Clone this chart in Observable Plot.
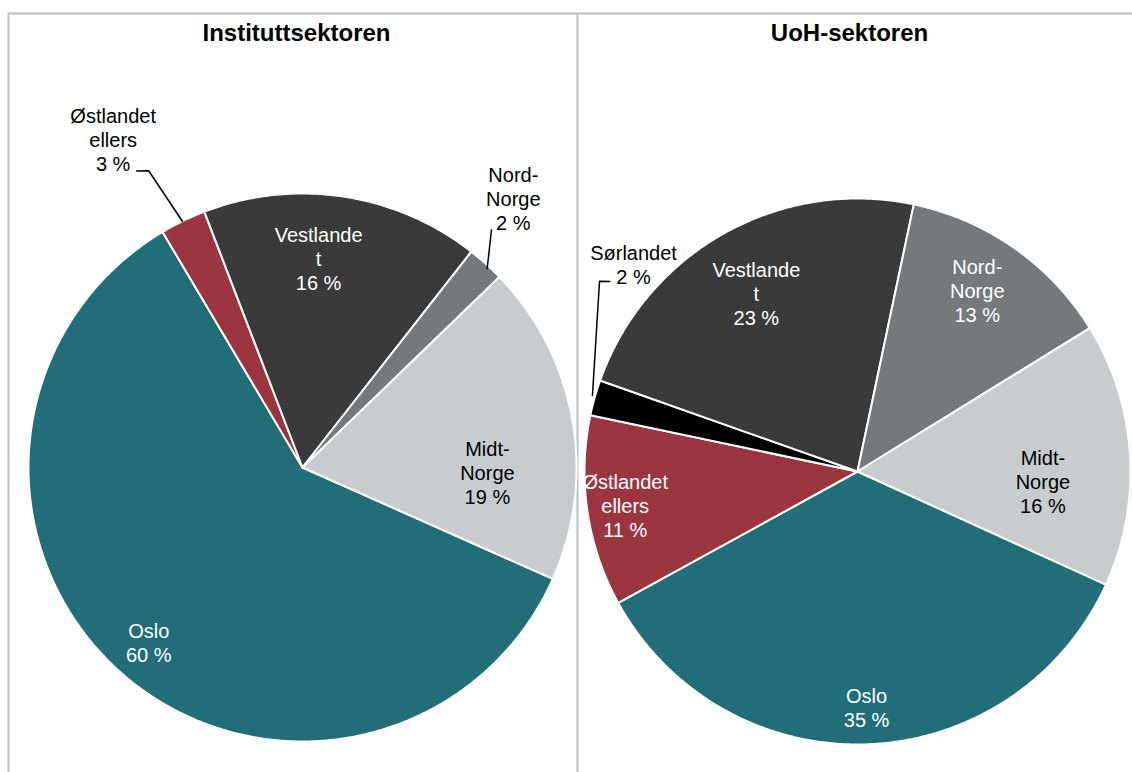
<!DOCTYPE html>
<html>
<head>
<meta charset="utf-8">
<script src="https://cdn.jsdelivr.net/npm/d3@7"></script>
<script src="https://cdn.jsdelivr.net/npm/@observablehq/plot@0.6"></script>
<style>
  html, body { margin: 0; padding: 0; background: #ffffff; }
  #chart svg { display: block; }
</style>
</head>
<body>
<div id="chart"></div>
<script>
// ---------- data ----------
const sectors = ["Instituttsektoren", "UoH-sektoren"];
const regions = ["Oslo", "Østlandet ellers", "Sørlandet", "Vestlandet", "Nord-Norge", "Midt-Norge"];
const regionLabels = ["Oslo", "Østlandet\nellers", "Sørlandet", "Vestlande\nt", "Nord-\nNorge", "Midt-\nNorge"];
const instituttValues = [59.8, 2.7, 0, 16.4, 2.2, 18.9];
const uohValues = [35.2, 11.3, 2.1, 22.9, 12.9, 15.6];
const regionColors = ["#216e79", "#9b3641", "#000000", "#3a3a3a", "#76797c", "#c9cccf"];
const insideTextColors = ["#ffffff", "#ffffff", "#ffffff", "#ffffff", "#ffffff", "#000000"];

// ---------- layout (positions, not data) ----------
const W = 1132, H = 772;
const layout = [
  { cx: 302, cy: 467, r: 274, start: 114, titleX: 296,
    labels: { "Oslo": [221.3, 0.85], "Østlandet ellers": [330, 1.382, true], "Vestlandet": [4.4, 0.766],
              "Nord-Norge": [38.1, 1.247, true], "Midt-Norge": [91.5, 0.675] },
    leaders: { "Østlandet ellers": [[330.8, 1.24], [332.6, 1.22], [334, 1.0]],
               "Nord-Norge": [[38.5, 1.108], [42.9, 0.99]] } },
  { cx: 857, cy: 471, r: 273, start: 114.5, titleX: 849,
    labels: { "Oslo": [177.8, 0.865], "Østlandet ellers": [261.7, 0.86], "Sørlandet": [312.8, 1.118, true],
              "Vestlandet": [330.4, 0.75], "Nord-Norge": [33.5, 0.795], "Midt-Norge": [93, 0.68] },
    leaders: { "Sørlandet": [[307.5, 1.144], [306.4, 1.174], [286, 1.01]] } }
];
const seriesValues = [instituttValues, uohValues];

const rad = Math.PI / 180;
function polar(L, ang, rf) {
  return { x: L.cx + L.r * rf * Math.sin(ang * rad), y: L.cy - L.r * rf * Math.cos(ang * rad) };
}

const slicePts = [], labelRows = [], leaderPts = [], titleRows = [];
sectors.forEach((sector, s) => {
  const L = layout[s];
  const vals = seriesValues[s];
  const total = d3.sum(vals);
  let a = L.start;
  titleRows.push({ x: L.titleX, y: 33, text: sector });
  regions.forEach((reg, i) => {
    const v = vals[i];
    if (!(v > 0)) return;
    const span = (v / total) * 360;
    const a0 = a, a1 = a + span;
    a = a1;
    const key = sector + "|" + reg;
    const c = polar(L, 0, 0);
    slicePts.push({ key, region: reg, x: c.x, y: c.y });
    const n = Math.max(2, Math.ceil(span / 0.5));
    for (let k = 0; k <= n; k++) {
      const p = polar(L, a0 + (span * k) / n, 1);
      slicePts.push({ key, region: reg, x: p.x, y: p.y });
    }
    slicePts.push({ key, region: reg, x: c.x, y: c.y });
    const lab = L.labels[reg];
    if (lab) {
      const p = polar(L, lab[0], lab[1]);
      labelRows.push({ x: p.x, y: p.y, text: regionLabels[i] + "\n" + Math.round(v) + " %",
                       color: lab[2] ? "#000000" : insideTextColors[i] });
    }
    const ld = L.leaders[reg];
    if (ld) ld.forEach(([ang, rf]) => { const p = polar(L, ang, rf); leaderPts.push({ key, x: p.x, y: p.y }); });
  });
});

const chart = Plot.plot({
  width: W, height: H,
  margin: 0,
  x: { domain: [0, W], range: [0, W], axis: null },
  y: { domain: [0, H], range: [0, H], axis: null },
  color: { domain: regions, range: regionColors },
  style: { fontFamily: "'Liberation Sans', Arial, sans-serif", background: "#ffffff" },
  marks: [
    Plot.ruleY([13], { x1: 8, x2: W, stroke: "#bfbfbf", strokeWidth: 2 }),
    Plot.ruleX([8, 577], { y1: 13, y2: H, stroke: "#bfbfbf", strokeWidth: 2 }),
    Plot.line(slicePts, { x: "x", y: "y", z: "key", fill: "region", stroke: "#ffffff", strokeWidth: 2, strokeLinejoin: "round", curve: "linear" }),
    Plot.line(leaderPts, { x: "x", y: "y", z: "key", stroke: "#000000", strokeWidth: 1.5 }),
    Plot.text(labelRows, { x: "x", y: "y", text: "text", fill: "color", fontSize: 20, lineHeight: 1.2, lineAnchor: "middle", textAnchor: "middle" }),
    Plot.text(titleRows, { x: "x", y: "y", text: "text", fill: "#000000", fontSize: 24, fontWeight: "bold", lineAnchor: "middle", textAnchor: "middle" })
  ]
});
document.getElementById("chart").appendChild(chart);
</script>
</body>
</html>
